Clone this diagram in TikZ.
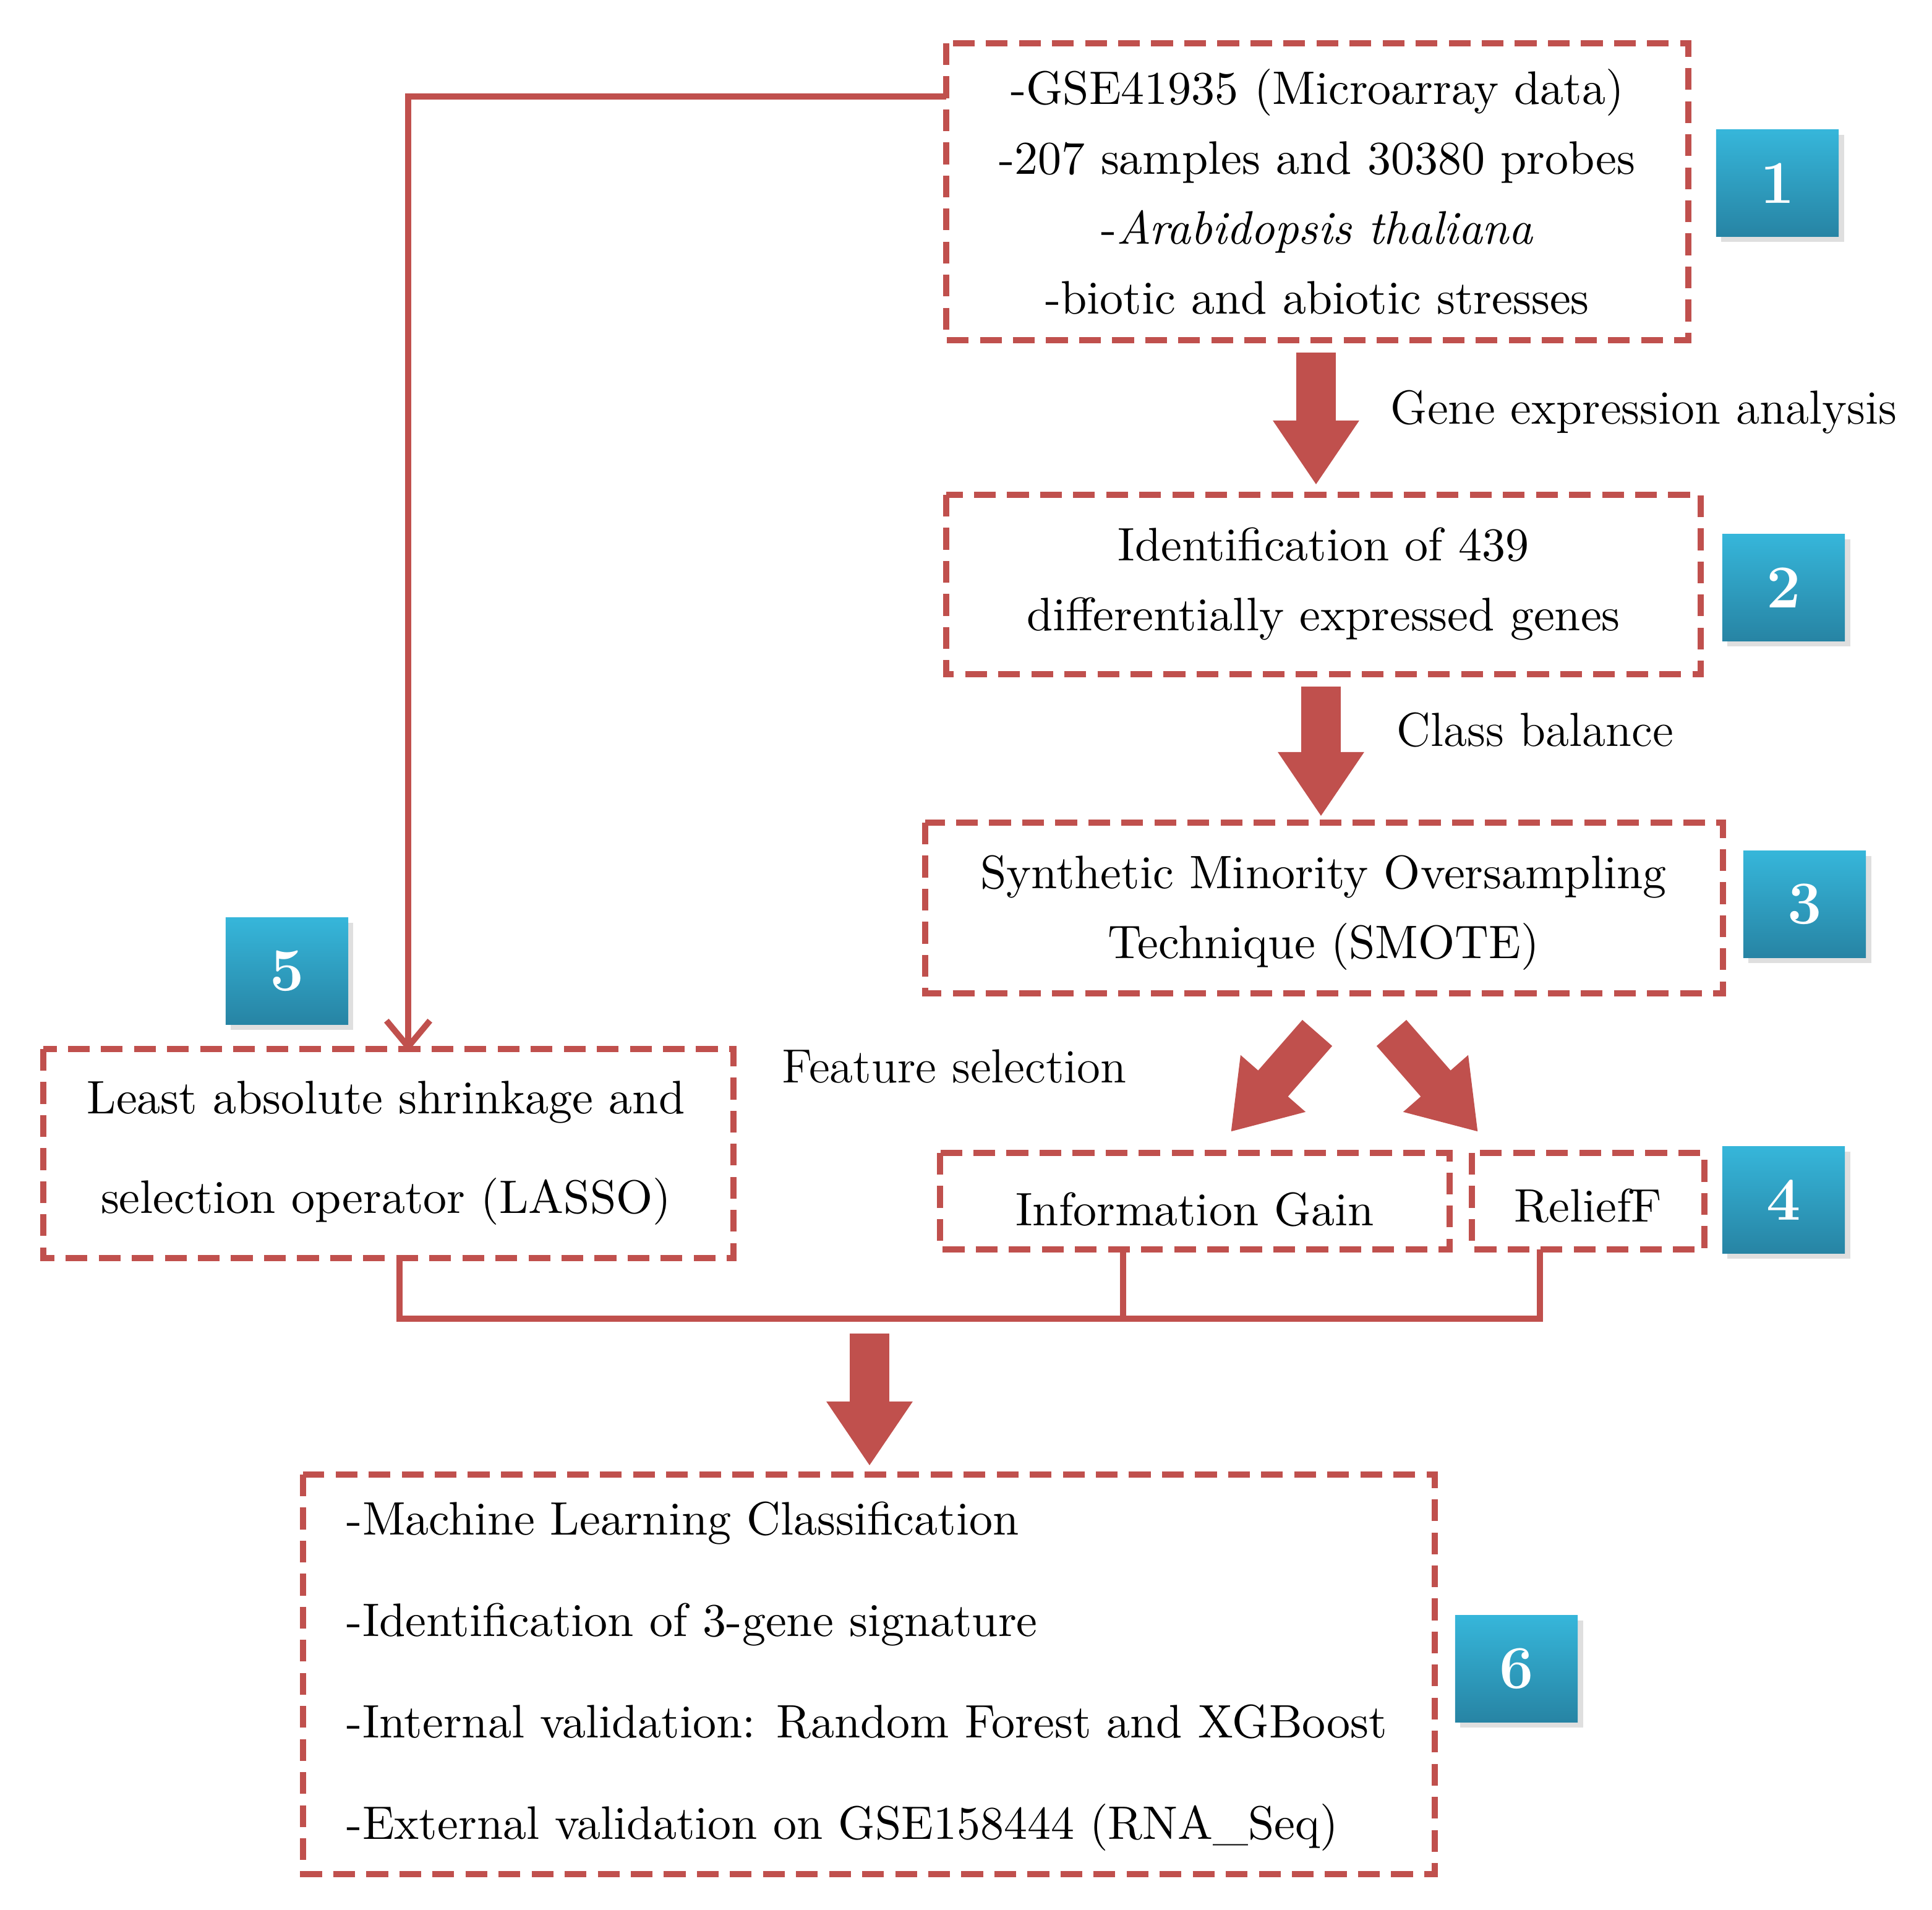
\documentclass[tikz,border=0pt]{standalone}
\usetikzlibrary{arrows.meta,shadows}
\definecolor{rd}{HTML}{C0504D}
\definecolor{bt}{HTML}{36B6DA}
\definecolor{bb}{HTML}{2784A4}
\begin{document}
\begin{tikzpicture}[x=0.01cm,y=-0.01cm,font=\fontsize{10.8}{14.8}\selectfont,
 box/.style={draw=rd,line width=1.4pt,dash pattern=on 5pt off 2.6pt,inner sep=0pt},
 num/.style={minimum width=0.99cm,minimum height=0.86cm,top color=bt,bottom color=bb,text=white,font=\fontsize{14}{16}\bfseries\selectfont,drop shadow={opacity=0.25,shadow xshift=1.2pt,shadow yshift=-1.2pt}},
 conn/.style={draw=rd,line width=1.4pt},
 big/.style={draw=rd,line width=0.32cm,-{Triangle[width=0.66cm,length=0.52cm]}},
 lab/.style={anchor=west,font=\fontsize{11}{13}\selectfont}]
\useasboundingbox (0,0) rectangle (1562,1544);
% boxes
\draw[box] (765,35) rectangle (1365,275);
\node (b1) at (1065,155) [align=center] {-GSE41935 (Microarray data)\\[1.3pt]-207 samples and 30380 probes\\[1.3pt]-\textit{Arabidopsis thaliana}\\[1.3pt]-biotic and abiotic stresses};
\coordinate (b1l) at (765,78);
\draw[box] (765,400) rectangle (1375,545);
\node (b2) at (1070,472) [align=center] {Identification of 439\\[1.3pt]differentially expressed genes};
\draw[box] (748,665) rectangle (1393,803);
\node (b3) at (1070,738) [align=center] {Synthetic Minority Oversampling\\[1.3pt]Technique (SMOTE)};
\draw[box] (760,932) rectangle (1172,1010);
\node (ig) at (966,978) {Information Gain};
\draw[box] (1190,932) rectangle (1378,1010);
\node (rf) at (1284,975) {ReliefF};
\draw[box] (35,848) rectangle (593,1017);
\node (b5) at (312,932) [align=center] {Least absolute shrinkage and\\[8pt]selection operator (LASSO)};
\draw[box] (245,1192) rectangle (1160,1515);
\node (b6) at (268,1355) [anchor=west,align=left] {-Machine Learning Classification\\[8.5pt]-Identification of 3-gene signature\\[8.5pt]-Internal validation: Random Forest and XGBoost\\[8.5pt]-External validation on GSE158444 (RNA\_Seq)};
% number badges
\node[num] (n1) at (1437,148) {1};
\node[num] (n2) at (1442,475) {2};
\node[num] (n3) at (1459,731) {3};
\node[num] (n4) at (1442,970) {4};
\node[num] (n5) at (232,785) {5};
\node[num] (n6) at (1226,1349) {6};
% big arrows
\draw[big] (1064,285) -- (1064,392);
\draw[big] (1068,555) -- (1068,660);
\draw[big] (1065,835) -- (995,915);
\draw[big] (1125,835) -- (1195,915);
\draw[big] (703,1078) -- (703,1185);
% connectors
\coordinate (lt) at (330,850);
\draw[conn,-{Straight Barb[length=6pt,width=10pt]}] (b1l) -- (330,78) -- (lt);
\coordinate (j1) at (323,1017); \coordinate (j2) at (908,1010); \coordinate (j3) at (1245,1010);
\draw[conn] (j1) -- (323,1066) -- (1245,1066) -- (j3);
\draw[conn] (j2) -- (908,1066);
% labels
\node[lab] (l1) at (1112,333) {Gene expression analysis};
\node[lab] (l2) at (1117,590) {Class balance};
\node[lab] (l3) at (620,862) {Feature selection};
\end{tikzpicture}
\end{document}
